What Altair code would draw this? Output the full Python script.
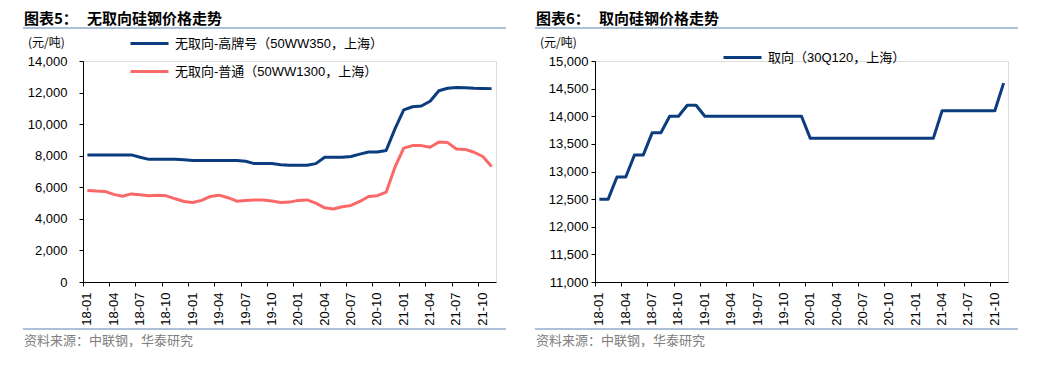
import altair as alt
import pandas as pd

months = [f"{y}-{m:02d}" for y in (18, 19, 20, 21) for m in range(1, 13)][:47]
tick_labels = months[::3]

names_left = ["无取向-高牌号（50WW350，上海）", "无取向-普通（50WW1300，上海）"]
high_grade = [8050, 8050, 8050, 8050, 8050, 8050, 7900, 7770, 7780, 7780,
              7780, 7750, 7700, 7700, 7700, 7700, 7700, 7700, 7650, 7500,
              7500, 7500, 7430, 7400, 7400, 7400, 7500, 7900, 7900, 7900,
              7950, 8100, 8230, 8230, 8330, 9700, 10900, 11100, 11150, 11450,
              12120, 12270, 12320, 12300, 12270, 12260, 12250]
common = [5800, 5760, 5740, 5550, 5430, 5580, 5530, 5470, 5500, 5460,
          5270, 5100, 5040, 5170, 5420, 5500, 5340, 5120, 5170, 5200,
          5200, 5130, 5040, 5060, 5170, 5200, 5000, 4700, 4620, 4770,
          4850, 5100, 5420, 5470, 5690, 7270, 8480, 8640, 8640, 8540,
          8870, 8830, 8430, 8400, 8220, 7950, 7320]

names_right = ["取向（30Q120，上海）"]
oriented = [12500, 12500, 12900, 12900, 13300, 13300, 13700, 13700, 14000, 14000,
            14200, 14200, 14000, 14000, 14000, 14000, 14000, 14000, 14000, 14000,
            14000, 14000, 14000, 14000, 13600, 13600, 13600, 13600, 13600, 13600,
            13600, 13600, 13600, 13600, 13600, 13600, 13600, 13600, 13600, 14100,
            14100, 14100, 14100, 14100, 14100, 14100, 14600]

left_y_ticks = list(range(0, 14001, 2000))
right_y_ticks = list(range(11000, 15001, 500))

BLUE = "#0b3c7d"
RED = "#fb6868"
RULE = "#5a82b4"
CJK = "Noto Sans CJK SC"
LAT = "Liberation Sans, Noto Sans CJK SC"

df_left = pd.DataFrame({
    "month": months * 2,
    "value": high_grade + common,
    "series": [names_left[0]] * len(months) + [names_left[1]] * len(months),
})
df_right = pd.DataFrame({
    "month": months,
    "value": oriented,
    "series": [names_right[0]] * len(months),
})

W, H = 413, 221
one = pd.DataFrame({"a": [0]})


def text_layer(txt, x, y, size, color="#000", weight="normal", font=CJK):
    return alt.Chart(one).mark_text(
        text=txt, align="left", baseline="middle", fontSize=size,
        font=font, fontWeight=weight, color=color
    ).encode(x=alt.value(x), y=alt.value(y))


def rule_layer(y):
    return alt.Chart(one).mark_rule(color=RULE, strokeWidth=1).encode(
        x=alt.value(-60), x2=alt.value(423), y=alt.value(y))


def panel(df, names, colors, ydomain, yticks, ylabpad, legx, legy, tnum, ttext):
    line = alt.Chart(df).mark_line(strokeWidth=3, strokeJoin="round").encode(
        x=alt.X("month:O", sort=months, bandPosition=0.5,
                scale=alt.Scale(type="band", domain=months, paddingInner=0, paddingOuter=0),
                axis=alt.Axis(values=tick_labels, bandPosition=0, labelAngle=-90,
                              title=None, tickSize=4, labelPadding=6,
                              labelFont="Liberation Sans", labelFontSize=13,
                              labelColor="#000", domainColor="#000", tickColor="#000")),
        y=alt.Y("value:Q",
                scale=alt.Scale(domain=ydomain, nice=False, zero=False),
                axis=alt.Axis(values=yticks, format=",.0f", title=None, grid=False,
                              tickSize=4, labelPadding=ylabpad,
                              labelFont="Liberation Sans", labelFontSize=13,
                              labelColor="#000", domainColor="#000", tickColor="#000")),
        color=alt.Color("series:N", sort=names,
                        scale=alt.Scale(domain=names, range=colors),
                        legend=alt.Legend(orient="none", legendX=legx, legendY=legy,
                                          title=None, symbolType="stroke",
                                          symbolStrokeWidth=3, symbolSize=1444,
                                          labelFont=LAT, labelFontSize=13,
                                          labelColor="#000", labelOffset=5,
                                          labelLimit=500,
                                          rowPadding=-11, padding=0)),
    )
    layers = [
        line,
        text_layer(tnum, -59, -42, 15, weight="bold"),
        text_layer(ttext, 4, -42, 15, weight="bold"),
        rule_layer(-33),
        text_layer("(元/吨)", -55, -18, 12),
        rule_layer(268),
        text_layer("资料来源：中联钢，华泰研究", -59, 280, 13, color="#808080"),
    ]
    return alt.layer(*layers).properties(width=W, height=H)


left = panel(df_left, names_left, [BLUE, RED], [0, 14000], left_y_ticks, 12,
             46, -38, "图表5：", "无取向硅钢价格走势")
right = panel(df_right, names_right, [BLUE], [11000, 15000], right_y_ticks, 3,
              127, -24, "图表6：", "取向硅钢价格走势")

chart = alt.hconcat(left, right, spacing=27).resolve_scale(
    color="independent", x="independent", y="independent"
).resolve_legend(color="independent").properties(
    padding={"left": 14, "top": 3, "right": 0, "bottom": 0}
).configure_view(stroke=None).configure(background="white")

chart.save("out.html", embed_options={"renderer": "svg", "actions": False})
